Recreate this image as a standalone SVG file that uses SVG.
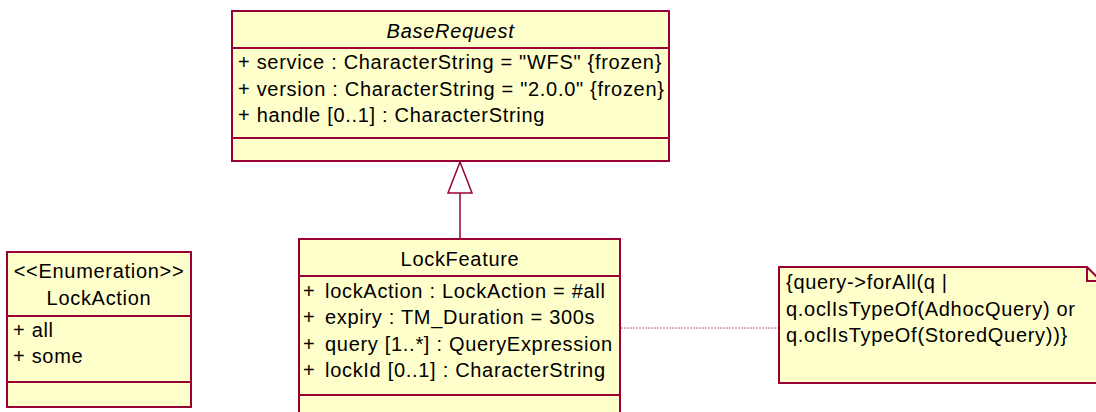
<svg xmlns="http://www.w3.org/2000/svg" width="1096" height="412" viewBox="0 0 1096 412">
<style>
.box{fill:#ffffcc;stroke:#990033;stroke-width:2}
.sep{stroke:#990033;stroke-width:2;fill:none}
text{font-family:"Liberation Sans",Arial,sans-serif;font-size:20px;letter-spacing:0.7px;fill:#000}
.c{text-anchor:middle}
.i{font-style:italic}
.conn{stroke:#990033;stroke-width:1.5;fill:none}
.anchor{stroke:#c06080;stroke-width:1;stroke-dasharray:2,1;fill:none}
</style>
<rect width="1096" height="412" fill="#fff"/>
<g id="connectors">
<line class="conn" x1="460" y1="193" x2="460" y2="239"/>
<polygon class="conn" points="460,162 448,193 472,193" fill="none"/>
<line class="anchor" x1="621" y1="328" x2="779" y2="328"/>
</g>
<g id="BaseRequest">
<rect class="box" x="232" y="11" width="437" height="150"/>
<line class="sep" x1="232" y1="48" x2="669" y2="48"/>
<line class="sep" x1="232" y1="138" x2="669" y2="138"/>
<text class="c i" x="450.5" y="38">BaseRequest</text>
<text x="238" y="69">+ service : CharacterString = "WFS" {frozen}</text>
<text x="238" y="96">+ version : CharacterString = "2.0.0" {frozen}</text>
<text x="238" y="122">+ handle [0..1] : CharacterString</text>
</g>
<g id="LockFeature">
<rect class="box" x="299" y="239" width="321" height="180"/>
<line class="sep" x1="299" y1="276" x2="620" y2="276"/>
<line class="sep" x1="299" y1="395" x2="620" y2="395"/>
<text class="c" x="460" y="266">LockFeature</text>
<text x="303" y="298">+</text><text x="325" y="298">lockAction : LockAction = #all</text>
<text x="303" y="324">+</text><text x="325" y="324">expiry : TM_Duration = 300s</text>
<text x="303" y="351">+</text><text x="325" y="351">query [1..*] : QueryExpression</text>
<text x="303" y="377">+</text><text x="325" y="377">lockId [0..1] : CharacterString</text>
</g>
<g id="LockAction">
<rect class="box" x="7" y="252" width="184" height="155"/>
<line class="sep" x1="7" y1="316" x2="191" y2="316"/>
<line class="sep" x1="7" y1="382" x2="191" y2="382"/>
<text class="c" x="99" y="278">&lt;&lt;Enumeration&gt;&gt;</text>
<text class="c" x="99" y="305">LockAction</text>
<text x="13" y="337">+ all</text>
<text x="13" y="363">+ some</text>
</g>
<g id="Note">
<path class="box" d="M779,267 H1087 L1101,281 V383 H779 Z"/>
<path class="sep" d="M1087,267 V281 H1101"/>
<text x="786" y="289">{query-&gt;forAll(q |</text>
<text x="786" y="316">q.oclIsTypeOf(AdhocQuery) or</text>
<text x="786" y="342">q.oclIsTypeOf(StoredQuery))}</text>
</g>
</svg>
